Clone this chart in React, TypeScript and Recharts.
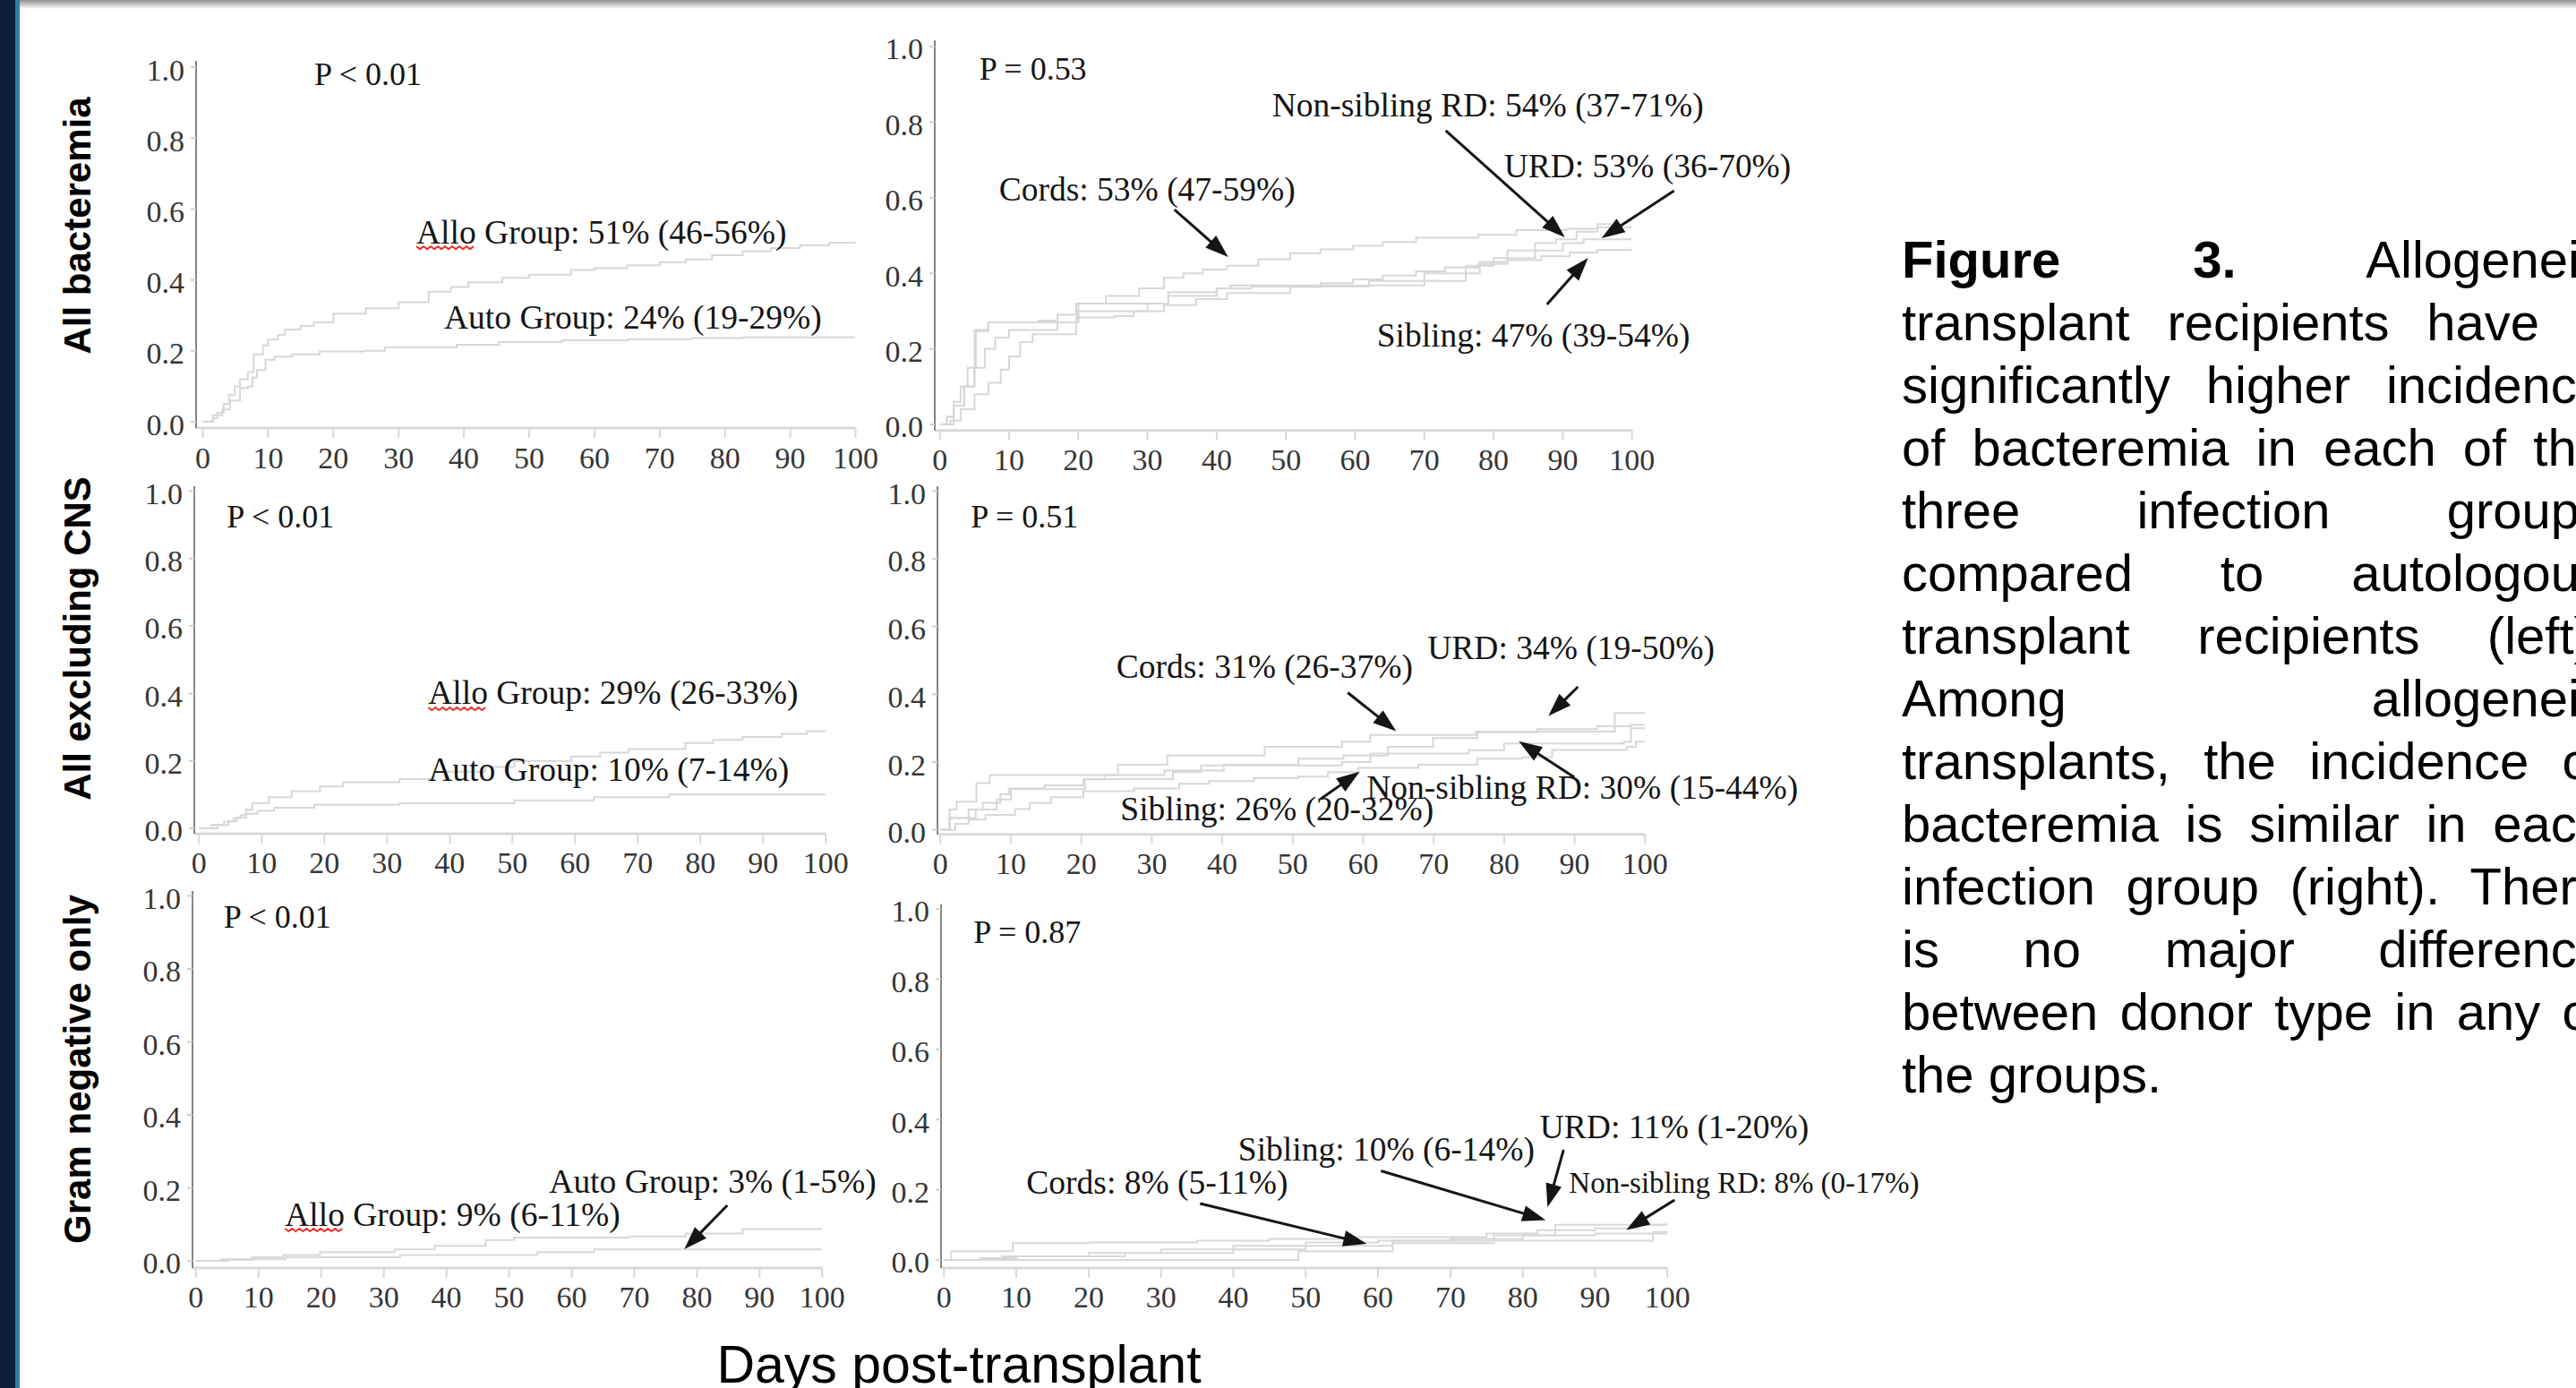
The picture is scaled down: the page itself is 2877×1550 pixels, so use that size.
import React from 'react';
import { LineChart, Line, XAxis, YAxis, ReferenceDot, ReferenceLine } from 'recharts';

const SERIF = "'Liberation Serif','Times New Roman',serif";
const SANS = "'Liberation Sans',Arial,Helvetica,sans-serif";

const dayTicks = [0, 10, 20, 30, 40, 50, 60, 70, 80, 90, 100];
const probTicks = [0, 0.2, 0.4, 0.6, 0.8, 1.0];

// ---------- Panel 1: All bacteremia, Allo vs Auto ----------
const p1Allo = [[0,0],[1.5,0.01],[2.2,0.025],[3.2,0.05],[4.0,0.075],[4.9,0.1],[5.7,0.12],[6.9,0.14],[7.8,0.19],[9.2,0.215],[10,0.232],[11.5,0.245],[12.6,0.26],[15,0.27],[17,0.28],[20,0.305],[25,0.32],[30,0.337],[34.6,0.367],[38,0.38],[40.7,0.393],[45.9,0.406],[50,0.415],[56.4,0.428],[60,0.433],[65,0.441],[70,0.45],[74,0.458],[78,0.47],[82.7,0.481],[87,0.49],[91.5,0.498],[96,0.505],[100,0.51]];
const p1Auto = [[0,0],[1.6,0.018],[3,0.035],[4.2,0.06],[5.7,0.095],[6.9,0.1],[7.6,0.125],[8.3,0.146],[9.6,0.175],[11,0.184],[13.7,0.19],[17.9,0.198],[24.7,0.2],[27.9,0.21],[38.9,0.217],[45.3,0.225],[55,0.23],[65.2,0.233],[75,0.236],[82.7,0.238],[100,0.238]];

// ---------- Panel 2: All bacteremia by donor type ----------
const p2Cords = [[0,0],[1,0.02],[2,0.06],[3,0.1],[4,0.15],[5.2,0.247],[7,0.27],[14.3,0.275],[17,0.29],[19.7,0.32],[24,0.34],[28.8,0.36],[32.4,0.388],[35.2,0.4],[38,0.41],[41.5,0.42],[46,0.437],[50.6,0.453],[55,0.463],[59.7,0.473],[64,0.483],[68.8,0.494],[77.8,0.502],[83.3,0.514],[90.5,0.518],[95,0.522],[100,0.522]];
const p2Sibling = [[0,0],[1.5,0.01],[3,0.04],[5,0.08],[7,0.11],[8.8,0.145],[10,0.18],[11.6,0.218],[13.4,0.239],[17.9,0.239],[19.7,0.283],[25.2,0.287],[28,0.3],[32.4,0.316],[37,0.332],[41.5,0.348],[50.6,0.364],[55,0.374],[59.7,0.384],[64,0.394],[68.8,0.405],[73,0.415],[77.8,0.425],[82,0.435],[86.9,0.445],[91,0.455],[95,0.462],[100,0.469]];
const p2Urd = [[0,0],[1,0.02],[2,0.05],[3.5,0.1],[5,0.15],[6.5,0.2],[8,0.23],[10,0.25],[17,0.27],[20,0.3],[30,0.32],[33,0.34],[40,0.36],[42,0.368],[69.7,0.368],[70,0.4],[76,0.42],[80,0.44],[86,0.46],[90,0.48],[93,0.49],[100,0.49]];
const p2NonSib = [[0,0],[2,0.05],[3.5,0.1],[5,0.25],[7,0.27],[19.7,0.27],[20,0.32],[32,0.32],[33,0.35],[40,0.36],[45,0.365],[62,0.38],[76,0.4],[78,0.43],[82,0.46],[86,0.48],[89,0.49],[92,0.51],[95,0.53],[97,0.53]];

// ---------- Panel 3: All excluding CNS, Allo vs Auto ----------
const p3Allo = [[0,0],[2,0.01],[4,0.02],[5.5,0.03],[6.6,0.039],[7.5,0.055],[8.5,0.074],[11.1,0.092],[14.8,0.11],[19.3,0.124],[23,0.137],[32,0.146],[37.5,0.168],[45.7,0.182],[50.3,0.2],[59.4,0.213],[64,0.224],[68.5,0.235],[77.6,0.253],[82,0.262],[86.7,0.271],[93,0.28],[97,0.288],[100,0.29]];
const p3Auto = [[0,0],[3,0.01],[4.7,0.021],[6,0.032],[7.5,0.043],[9.3,0.052],[12,0.061],[18.4,0.07],[32,0.074],[50.3,0.083],[63,0.092],[75,0.1],[100,0.1]];

// ---------- Panel 4: All excluding CNS by donor type ----------
const p4Urd = [[0,0],[1.3,0.06],[2.3,0.083],[5.1,0.138],[7,0.162],[25.2,0.192],[32.2,0.219],[44.5,0.219],[46,0.245],[57,0.26],[61,0.28],[76,0.29],[95.7,0.345],[100,0.345]];
const p4Cords = [[0,0],[1.3,0.035],[4,0.06],[6,0.08],[8.5,0.105],[9.7,0.122],[14.8,0.131],[20.3,0.149],[23.3,0.162],[31.8,0.175],[40.2,0.192],[50.8,0.21],[57.2,0.219],[63.5,0.245],[69.9,0.271],[76.2,0.288],[84.7,0.297],[93.2,0.306],[98,0.31],[100,0.31]];
const p4NonSib = [[0,0],[1.3,0.035],[5,0.06],[8,0.09],[10,0.12],[20.3,0.12],[20.5,0.15],[23.3,0.15],[33,0.17],[37,0.19],[57,0.2],[61,0.225],[75,0.235],[80,0.255],[97,0.26],[98,0.3],[100,0.3]];
const p4Sibling = [[0,0],[2.1,0.018],[4,0.03],[6.4,0.044],[10.6,0.061],[12.7,0.079],[15.7,0.096],[20.3,0.114],[27.5,0.122],[33.9,0.136],[38.1,0.144],[44.5,0.153],[50.8,0.157],[55,0.17],[59.3,0.183],[67.8,0.192],[76.2,0.21],[82.6,0.214],[86.8,0.236],[97.4,0.245],[98.7,0.26],[100,0.26]];

// ---------- Panel 5: Gram negative only, Allo vs Auto ----------
const p5Allo = [[0,0],[5.2,0.003],[9,0.01],[13.9,0.016],[19.8,0.024],[31.7,0.031],[38.1,0.041],[46.3,0.057],[50.8,0.064],[69.1,0.067],[78.2,0.075],[87.3,0.087],[100,0.09]];
const p5Auto = [[0,0],[4,0.004],[14.3,0.01],[32.6,0.016],[54.5,0.024],[63.6,0.031],[100,0.031]];

// ---------- Panel 6: Gram negative only by donor type ----------
const p6Cords = [[0,0],[5,0.005],[10,0.01],[20,0.02],[30,0.03],[40,0.04],[50,0.05],[60,0.055],[70,0.06],[80,0.07],[90,0.075],[100,0.08]];
const p6Sibling = [[0,0],[1,0.025],[9.5,0.048],[20,0.05],[35,0.055],[45,0.06],[55,0.065],[75,0.075],[82,0.085],[90,0.09],[96,0.1],[100,0.1]];
const p6Urd = [[0,0],[8,0.01],[25,0.02],[40,0.03],[50,0.04],[62,0.055],[76,0.07],[84.5,0.1],[100,0.105]];
const p6NonSib = [[0,0],[49,0.025],[62,0.048],[76,0.055],[98,0.08],[100,0.08]];

// ---------- Annotations (data coordinates) ----------
type Note = { text: string; d: number; v: number; size?: number };
type Arrow = { from: number[]; to: number[] };

const p1Notes: Note[] = [
  { text: 'P < 0.01', d: 17.08, v: 0.98, size: 36 },
  { text: 'Allo Group: 51% (46-56%)', d: 32.72, v: 0.535 },
  { text: 'Auto Group: 24% (19-29%)', d: 36.97, v: 0.293 },
];
const p2Notes: Note[] = [
  { text: 'P = 0.53', d: 5.69, v: 0.94, size: 36 },
  { text: 'Non-sibling RD: 54% (37-71%)', d: 48.0, v: 0.8436 },
  { text: 'URD: 53% (36-70%)', d: 81.5, v: 0.6848 },
  { text: 'Cords: 53% (47-59%)', d: 8.54, v: 0.6209 },
  { text: 'Sibling: 47% (39-54%)', d: 63.13, v: 0.2346 },
];
const p2Arrows: Arrow[] = [
  { from: [33.89, 0.5687], to: [41.66, 0.4431] },
  { from: [73.09, 0.7773], to: [90.3, 0.4953] },
  { from: [106.08, 0.6185], to: [95.6, 0.4929] },
  { from: [87.71, 0.3175], to: [93.66, 0.4408] },
];
const p3Notes: Note[] = [
  { text: 'P < 0.01', d: 4.43, v: 0.9238, size: 36 },
  { text: 'Allo Group: 29% (26-33%)', d: 36.57, v: 0.4009 },
  { text: 'Auto Group: 10% (7-14%)', d: 36.57, v: 0.1726 },
];
const p4Notes: Note[] = [
  { text: 'P = 0.51', d: 4.32, v: 0.9242, size: 36 },
  { text: 'Cords: 31% (26-37%)', d: 24.97, v: 0.4802 },
  { text: 'URD: 34% (19-50%)', d: 69.12, v: 0.5357 },
  { text: 'Non-sibling RD: 30% (15-44%)', d: 60.48, v: 0.1234 },
  { text: 'Sibling: 26% (20-32%)', d: 25.54, v: 0.06 },
];
const p4Arrows: Arrow[] = [
  { from: [57.81, 0.4049], to: [64.68, 0.2912] },
  { from: [90.47, 0.422], to: [86.28, 0.3362] },
  { from: [89.96, 0.1551], to: [82.08, 0.2616] },
  { from: [54.0, 0.0917], to: [59.5, 0.1718] },
];
const p5Notes: Note[] = [
  { text: 'P < 0.01', d: 4.43, v: 0.9423, size: 36 },
  { text: 'Auto Group: 3% (1-5%)', d: 56.4, v: 0.2184 },
  { text: 'Allo Group: 9% (6-11%)', d: 14.22, v: 0.1276 },
];
const p5Arrows: Arrow[] = [{ from: [84.85, 0.1521], to: [77.98, 0.0319] }];
const p6Notes: Note[] = [
  { text: 'P = 0.87', d: 4.08, v: 0.9337, size: 36 },
  { text: 'URD: 11% (1-20%)', d: 82.36, v: 0.3776 },
  { text: 'Sibling: 10% (6-14%)', d: 40.66, v: 0.3163 },
  { text: 'Cords: 8% (5-11%)', d: 11.39, v: 0.2194 },
  { text: 'Non-sibling RD: 8% (0-17%)', d: 86.39, v: 0.2194, size: 33 },
];
const p6Arrows: Arrow[] = [
  { from: [35.4, 0.1607], to: [58.42, 0.0459] },
  { from: [60.4, 0.2538], to: [83.17, 0.1135] },
  { from: [85.64, 0.3138], to: [83.42, 0.1505] },
  { from: [100.99, 0.1709], to: [94.31, 0.0855] },
];

const rowLabels = ['All bacteremia', 'All excluding CNS', 'Gram negative only'];
const captionLines = [
  'transplant recipients have a',
  'significantly higher incidence',
  'of bacteremia in each of the',
  'three infection groups',
  'compared to autologous',
  'transplant recipients (left).',
  'Among allogeneic',
  'transplants, the incidence of',
  'bacteremia is similar in each',
  'infection group (right). There',
  'is no major difference',
  'between donor type in any of',
];
const captionLast = 'the groups.';

// ---------- rendering helpers ----------
const toPts = (a: number[][]) => a.map(([d, v]) => ({ d, v }));
const CURVE = '#d8d8d8';
const INK = '#151515';

const XTick = (p: any) => (
  <text x={p.x} y={p.y + 12} textAnchor="middle" dominantBaseline="central"
    fontFamily={SERIF} fontSize={34} fill="#363636">{p.payload.value}</text>
);
const YTick = (p: any) => (
  <text x={p.x} y={p.y + 3} textAnchor="end" dominantBaseline="central"
    fontFamily={SERIF} fontSize={34} fill="#363636">{Number(p.payload.value).toFixed(1)}</text>
);

const wavy = (x: number, y: number, w: number) => {
  let d = `M${x},${y}`;
  for (let i = 0, k = 0; i < w; i += 4, k++) d += ` L${x + i + 4},${y + (k % 2 === 0 ? 3 : 0)}`;
  return d;
};

const ArrowShape = (p: any) => {
  const x1 = Number(p.x1), y1 = Number(p.y1), x2 = Number(p.x2), y2 = Number(p.y2);
  if (![x1, y1, x2, y2].every(Number.isFinite)) return <g />;
  const dx = x2 - x1, dy = y2 - y1;
  const len = Math.hypot(dx, dy) || 1;
  const ux = dx / len, uy = dy / len;
  const L = 26, W = 9;
  const bx = x2 - ux * L, by = y2 - uy * L;
  const tri = `${x2},${y2} ${bx - uy * W},${by + ux * W} ${bx + uy * W},${by - ux * W}`;
  return (
    <g>
      <line x1={x1} y1={y1} x2={bx + ux * 3} y2={by + uy * 3} stroke={INK} strokeWidth={3} />
      <polygon points={tri} fill={INK} />
    </g>
  );
};

const noteShape = (n: Note) => (p: any) => {
  const size = n.size ?? 37.5;
  return (
    <g>
      <text x={p.cx} y={p.cy} dominantBaseline="central" fontFamily={SERIF} fontSize={size} fill={INK}>{n.text}</text>
      {n.text.startsWith('Allo') ? (
        <path d={wavy(p.cx, p.cy + 16, 62)} stroke="#e8312a" strokeWidth={2} fill="none" />
      ) : null}
    </g>
  );
};

type Geom = { axisX: number; x0: number; x100: number; top: number; y1: number; y0: number; axisY: number };
type Series = { name: string; data: number[][] };

function Panel({ g, series, notes, arrows }: { g: Geom; series: Series[]; notes: Note[]; arrows: Arrow[] }) {
  const YW = 80, MT = 20, XH = 70, MR = 330;
  const pxX = (g.x100 - g.x0) / 100;
  const xMin = -(g.x0 - g.axisX) / pxX;
  const pxY = g.y0 - g.y1;
  const yMin = -(g.axisY - g.y0) / pxY;
  const yMax = 1 + (g.y1 - g.top) / pxY;
  const width = YW + (g.x100 - g.axisX) + MR;
  const height = MT + (g.axisY - g.top) + XH;
  return (
    <div style={{ position: 'absolute', left: g.axisX - YW, top: g.top - MT, width, height }}>
      <LineChart width={width} height={height} margin={{ top: MT, right: MR, bottom: 0, left: 0 }}>
        <XAxis type="number" dataKey="d" domain={[xMin, 100]} allowDataOverflow ticks={dayTicks} interval={0}
          height={XH} tickSize={11} tickMargin={10} tick={XTick}
          axisLine={{ stroke: '#d9d9d9', strokeWidth: 3 }} tickLine={{ stroke: '#d9d9d9', strokeWidth: 2 }} />
        <YAxis type="number" domain={[yMin, yMax]} allowDataOverflow ticks={probTicks} interval={0}
          width={YW} tickSize={6} tickMargin={7} tick={YTick}
          axisLine={{ stroke: '#858585', strokeWidth: 2 }} tickLine={{ stroke: '#d0d0d0', strokeWidth: 2 }} />
        {series.map((s) => (
          <Line key={s.name} name={s.name} data={toPts(s.data)} dataKey="v" type="stepAfter"
            stroke={CURVE} strokeWidth={2} dot={false} activeDot={false} isAnimationActive={false} />
        ))}
        {arrows.map((a, i) => (
          <ReferenceLine key={'a' + i} ifOverflow="visible"
            segment={[{ x: a.from[0], y: a.from[1] }, { x: a.to[0], y: a.to[1] }]}
            shape={ArrowShape} />
        ))}
        {notes.map((n, i) => (
          <ReferenceDot key={'n' + i} x={n.d} y={n.v} r={0} ifOverflow="visible" shape={noteShape(n)} />
        ))}
      </LineChart>
    </div>
  );
}

const panels: { g: Geom; series: Series[]; notes: Note[]; arrows: Arrow[] }[] = [
  { g: { axisX: 219, x0: 226.5, x100: 955.5, top: 68, y1: 75, y0: 471, axisY: 478 },
    series: [{ name: 'Allo', data: p1Allo }, { name: 'Auto', data: p1Auto }], notes: p1Notes, arrows: [] },
  { g: { axisX: 1044.3, x0: 1050, x100: 1823, top: 45, y1: 52, y0: 474, axisY: 480.7 },
    series: [{ name: 'Cords', data: p2Cords }, { name: 'Sibling', data: p2Sibling }, { name: 'URD', data: p2Urd }, { name: 'NonSib', data: p2NonSib }],
    notes: p2Notes, arrows: p2Arrows },
  { g: { axisX: 216.7, x0: 222, x100: 922, top: 543, y1: 548.3, y0: 925, axisY: 931 },
    series: [{ name: 'Allo', data: p3Allo }, { name: 'Auto', data: p3Auto }], notes: p3Notes, arrows: [] },
  { g: { axisX: 1046.7, x0: 1050, x100: 1837, top: 543, y1: 548.3, y0: 926.7, axisY: 931.7 },
    series: [{ name: 'URD', data: p4Urd }, { name: 'Cords', data: p4Cords }, { name: 'NonSib', data: p4NonSib }, { name: 'Sibling', data: p4Sibling }],
    notes: p4Notes, arrows: p4Arrows },
  { g: { axisX: 214.7, x0: 218.5, x100: 918, top: 995, y1: 1000.5, y0: 1408, axisY: 1416 },
    series: [{ name: 'Allo', data: p5Allo }, { name: 'Auto', data: p5Auto }], notes: p5Notes, arrows: p5Arrows },
  { g: { axisX: 1050.7, x0: 1054, x100: 1862, top: 1010, y1: 1015, y0: 1407, axisY: 1416 },
    series: [{ name: 'Cords', data: p6Cords }, { name: 'Sibling', data: p6Sibling }, { name: 'URD', data: p6Urd }, { name: 'NonSib', data: p6NonSib }],
    notes: p6Notes, arrows: p6Arrows },
];

const rowCenters = [252, 713, 1194];

export default function App() {
  const justify: React.CSSProperties = { textAlign: 'justify', textAlignLast: 'justify', whiteSpace: 'nowrap' };
  return (
    <div style={{ position: 'absolute', left: 0, top: 0, width: 2877, height: 1550, overflow: 'hidden', background: '#ffffff' }}>
      <div style={{ position: 'absolute', left: 0, top: 0, width: 2877, height: 10, background: 'linear-gradient(#8e8e8e, #ffffff)' }} />
      <div style={{ position: 'absolute', left: 0, top: 0, width: 17, height: 1550, background: '#0c1f3b' }} />
      <div style={{ position: 'absolute', left: 17, top: 0, width: 5, height: 1550, background: '#2f7fa8' }} />

      {panels.map((p, i) => (
        <Panel key={i} g={p.g} series={p.series} notes={p.notes} arrows={p.arrows} />
      ))}

      {rowLabels.map((t, i) => (
        <div key={t} style={{
          position: 'absolute', left: 87, top: rowCenters[i], transform: 'translate(-50%,-50%) rotate(-90deg)',
          whiteSpace: 'nowrap', fontFamily: SANS, fontWeight: 700, fontSize: 42, lineHeight: '48px', color: '#000',
        }}>{t}</div>
      ))}

      <div style={{ position: 'absolute', left: 1071, top: 1494, transform: 'translateX(-50%)', whiteSpace: 'nowrap',
        fontFamily: SANS, fontSize: 59, lineHeight: '60px', color: '#000' }}>Days post-transplant</div>

      <div style={{ position: 'absolute', left: 2124, top: 255, width: 786, fontFamily: SANS, fontSize: 58, lineHeight: '70px', color: '#000' }}>
        <div style={justify}><b>Figure</b> <b>3.</b> Allogeneic</div>
        {captionLines.map((l) => (<div key={l} style={justify}>{l}</div>))}
        <div style={{ textAlign: 'left', whiteSpace: 'nowrap' }}>{captionLast}</div>
      </div>
    </div>
  );
}
